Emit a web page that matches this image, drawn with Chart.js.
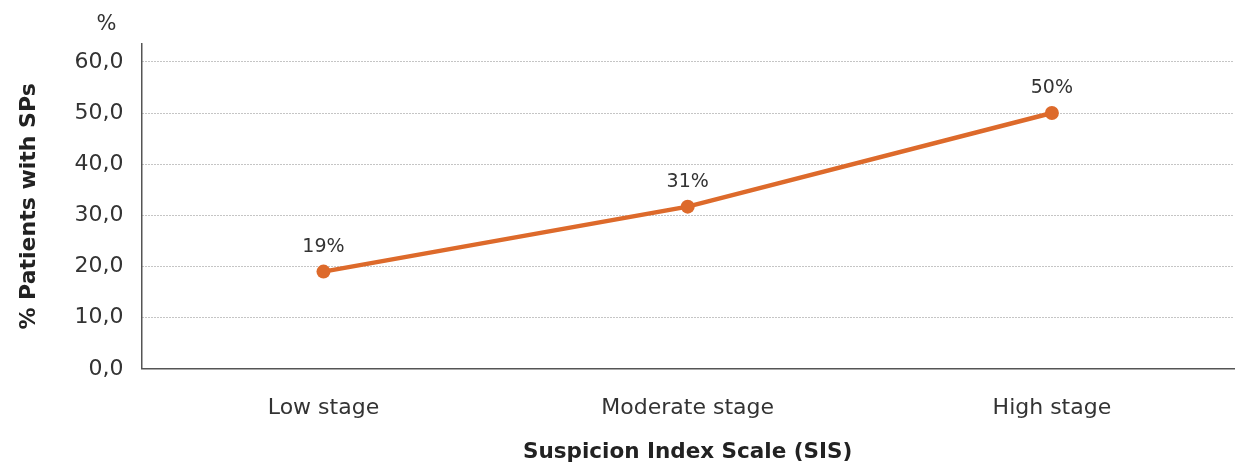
<!DOCTYPE html>
<html>
<head>
<meta charset="utf-8">
<script src="https://cdn.jsdelivr.net/npm/chart.js@4"></script>
<style>
  html, body { margin: 0; padding: 0; background: #fff; }
  #wrap { width: 1241px; height: 465px; }
</style>
</head>
<body>
<div id="wrap"><canvas id="myChart"></canvas></div>
<script>
const stages = ['Low stage', 'Moderate stage', 'High stage'];
const patientsPct = [19, 31.7, 50];
const pointLabels = ['19%', '31%', '50%'];
const yTicks = [0, 10, 20, 30, 40, 50, 60];

const orange = '#DD6A2B';
const fontFamily = '"DejaVu Sans", sans-serif';

// labels above the points + the "%" unit above the y axis
const textPlugin = {
    id: 'textPlugin',
    afterDatasetsDraw(chart) {
        const ctx = chart.ctx;
        const meta = chart.getDatasetMeta(0);
        ctx.save();
        ctx.fillStyle = '#333';
        ctx.font = '19px ' + fontFamily;
        ctx.textAlign = 'center';
        ctx.textBaseline = 'middle';
        meta.data.forEach((pt, i) => {
            ctx.fillText(pointLabels[i], pt.x, pt.y - 25);
        });
        ctx.font = '21px ' + fontFamily;
        ctx.fillText('%', chart.chartArea.left - 35, 25);
        ctx.restore();
    }
};

const ctx = document.getElementById('myChart').getContext('2d');
const myChart = new Chart(ctx, {
    type: 'line',
    data: {
        labels: stages,
        datasets: [{
            label: '% Patients with SPs',
            data: patientsPct,
            borderColor: orange,
            backgroundColor: orange,
            borderWidth: 4.5,
            pointRadius: 7,
            pointHoverRadius: 7,
            pointBackgroundColor: orange,
            pointBorderWidth: 0,
            tension: 0
        }]
    },
    options: {
        responsive: true,
        maintainAspectRatio: false,
        animation: false,
        layout: { padding: { top: 44, right: 0, left: 12, bottom: 0 } },
        plugins: {
            legend: { display: false },
            tooltip: { enabled: false }
        },
        scales: {
            x: {
                offset: true,
                grid: { display: false, drawTicks: false },
                border: { display: true, color: '#555', width: 1.5 },
                ticks: {
                    color: '#333',
                    padding: 26,
                    font: { family: fontFamily, size: 22 }
                },
                title: {
                    display: true,
                    text: 'Suspicion Index Scale (SIS)',
                    color: '#222',
                    padding: { top: -8, bottom: 0 },
                    font: { family: fontFamily, size: 21.5, weight: 'bold' }
                }
            },
            y: {
                min: 0,
                max: 63.5,
                afterBuildTicks(scale) {
                    scale.ticks = yTicks.map(v => ({ value: v }));
                },
                grid: {
                    color: '#8a8a8a',
                    lineWidth: 1,
                    drawTicks: false
                },
                border: { display: true, color: '#555', width: 1.5, dash: [1, 2] },
                ticks: {
                    color: '#333',
                    padding: 18,
                    font: { family: fontFamily, size: 22 },
                    callback: v => v.toFixed(1).replace('.', ',')
                },
                title: {
                    display: true,
                    text: '% Patients with SPs',
                    color: '#222',
                    padding: { bottom: 14 },
                    font: { family: fontFamily, size: 22, weight: 'bold' }
                }
            }
        }
    },
    plugins: [textPlugin]
});
</script>
</body>
</html>
